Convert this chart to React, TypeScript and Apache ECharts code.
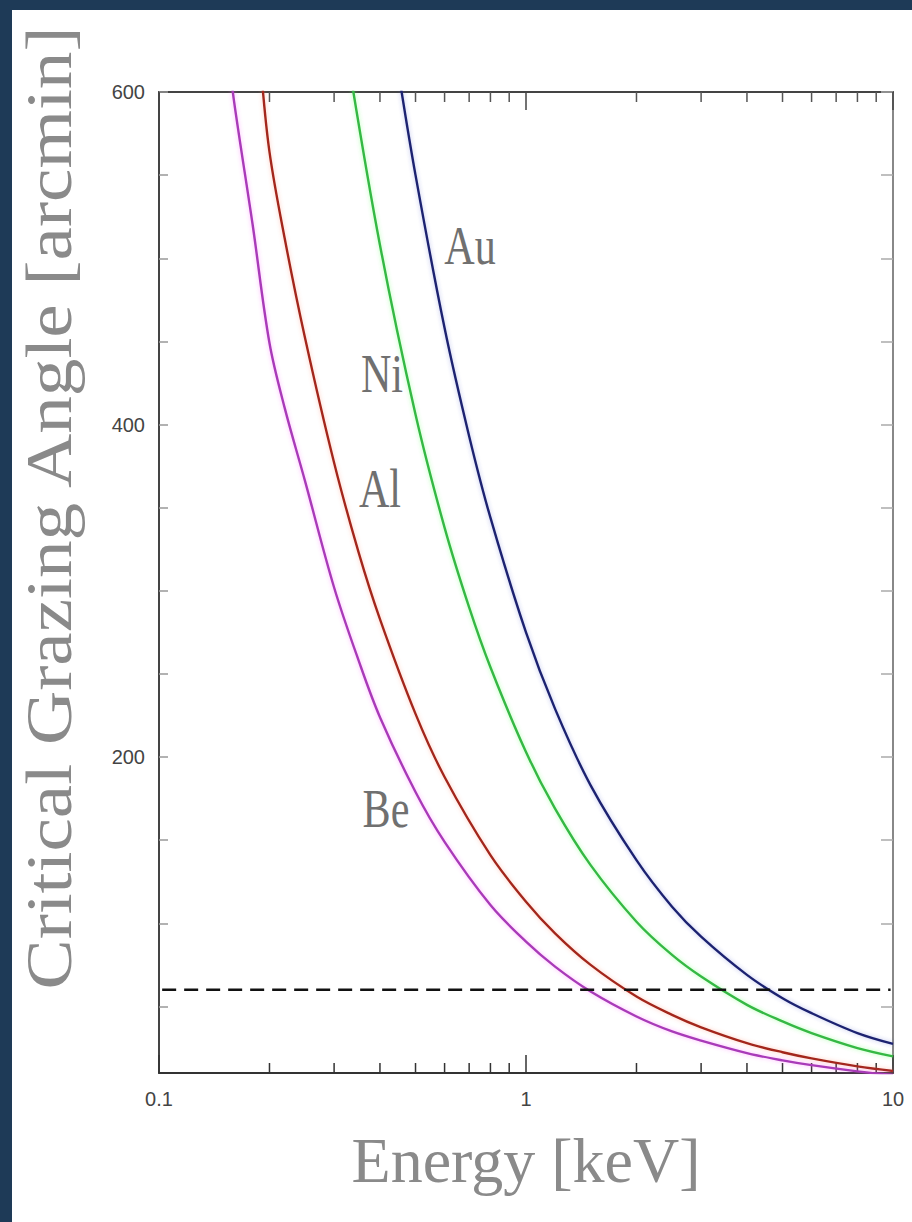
import React, { useEffect, useRef } from "react";
import * as echarts from "echarts";

// ---- data (energy in keV, critical angle in arcmin) ----
const energyAu = [0.45, 0.5, 0.6, 0.7, 0.8, 1, 1.2, 1.5, 2, 2.5, 3, 4, 5, 6, 8, 10];
const angleAu = [611, 550, 458, 393, 344, 275, 229, 183, 138, 110, 92, 69, 55, 46, 34, 27.5];

const energyNi = [0.33, 0.4, 0.5, 0.6, 0.7, 0.8, 1, 1.2, 1.5, 2, 2.5, 3, 4, 5, 6, 8, 10];
const angleNi = [615, 508, 406, 338, 290, 254, 203, 169, 135, 101, 81, 68, 51, 41, 34, 25, 20];

const energyAl = [0.19, 0.2, 0.22, 0.25, 0.3, 0.35, 0.4, 0.5, 0.6, 0.8, 1, 1.2, 1.5, 2, 2.5, 3, 4, 5, 6, 8, 10];
const angleAl = [612, 564, 512, 452, 377, 323, 283, 226, 188, 141, 113, 94, 75, 56, 45, 37.5, 28, 22.5, 18.8, 14, 11.2];

const energyBe = [0.155, 0.16, 0.18, 0.2, 0.22, 0.25, 0.3, 0.35, 0.4, 0.5, 0.6, 0.8, 1, 1.2, 1.5, 2, 2.5, 3, 4, 5, 6, 8, 10];
const angleBe = [622, 595, 520, 449, 410, 366, 302, 258, 224, 179, 149, 111, 89, 74, 59, 44, 35, 29.5, 22, 17.6, 14.7, 11, 8.8];

const thresholdAngle = 60;
const thresholdEnergy = [0.102, 9.85];

const xMinorTicks = [0.2, 0.3, 0.4, 0.5, 0.6, 0.7, 0.8, 0.9, 2, 3, 4, 5, 6, 7, 8, 9];
const yTickValues = [50, 100, 150, 200, 250, 300, 350, 400, 450, 500, 550, 600];
const yLabelValues = [200, 400, 600];

const materialNames = ["Au", "Ni", "Al", "Be"];
const materialColors = ["#1c2270", "#36b844", "#a3281c", "#a83ab8"];
const glowColors = ["rgba(60,70,200,0.35)", "rgba(80,255,80,0.45)", "rgba(255,120,90,0.4)", "rgba(255,90,255,0.45)"];

const X_MIN = 0.1;
const X_MAX = 10;
const Y_MIN = 10;
const Y_MAX = 600;

function pairs(xs: number[], ys: number[]) {
  return xs.map((x, i) => [x, ys[i]]);
}

const seriesData = [
  pairs(energyAu, angleAu),
  pairs(energyNi, angleNi),
  pairs(energyAl, angleAl),
  pairs(energyBe, angleBe),
];

export default function App() {
  const ref = useRef<HTMLDivElement>(null);

  useEffect(() => {
    if (!ref.current) return;
    const chart = echarts.init(ref.current, null, { renderer: "svg" });
    const tickFont = "'Liberation Sans', Arial, sans-serif";
    const titleFont = "'Liberation Serif', 'DejaVu Serif', serif";

    const lineSeries = materialNames.map((name, i) => ({
      name,
      type: "line",
      xAxisIndex: 0,
      yAxisIndex: 0,
      data: seriesData[i],
      symbol: "none",
      smooth: 0.35,
      clip: true,
      z: 4,
      lineStyle: {
        color: materialColors[i],
        width: 2.4,
        shadowColor: glowColors[i],
        shadowBlur: 4,
      },
    }));

    chart.setOption({
      animation: false,
      backgroundColor: "#ffffff",
      grid: { left: 147, top: 82, right: 19, bottom: 149, containLabel: false },
      xAxis: [
        {
          type: "log",
          logBase: 10,
          min: X_MIN,
          max: X_MAX,
          position: "bottom",
          axisLine: { show: true, lineStyle: { color: "#333", width: 2 } },
          axisTick: { show: true, inside: true, length: 18, lineStyle: { color: "#333", width: 1.5 } },
          axisLabel: { show: true, fontSize: 20, color: "#444", margin: 16, fontFamily: tickFont },
          splitLine: { show: false },
          minorTick: { show: false },
        },
        {
          type: "log",
          logBase: 10,
          min: X_MIN,
          max: X_MAX,
          position: "top",
          axisLine: { show: true, lineStyle: { color: "#444", width: 2 } },
          axisTick: { show: true, inside: true, length: 18, lineStyle: { color: "#444", width: 1.5 } },
          axisLabel: { show: false },
          splitLine: { show: false },
        },
      ],
      yAxis: [
        {
          type: "value",
          min: Y_MIN,
          max: Y_MAX,
          position: "left",
          axisLine: { show: true, lineStyle: { color: "#444", width: 2 } },
          axisTick: { show: true, inside: true, length: 9, customValues: yTickValues, lineStyle: { color: "#999", width: 1.5 } },
          axisLabel: { show: true, customValues: yLabelValues, fontSize: 20, color: "#444", margin: 14, fontFamily: tickFont },
          splitLine: { show: false },
        },
        {
          type: "value",
          min: Y_MIN,
          max: Y_MAX,
          position: "right",
          axisLine: { show: true, lineStyle: { color: "#888", width: 2 } },
          axisTick: { show: true, inside: true, length: 12, customValues: yTickValues, lineStyle: { color: "#aaa", width: 1.5 } },
          axisLabel: { show: false },
          splitLine: { show: false },
        },
      ],
      series: [
        ...lineSeries,
        {
          name: "1 degree",
          type: "line",
          xAxisIndex: 0,
          yAxisIndex: 0,
          data: thresholdEnergy.map((e) => [e, thresholdAngle]),
          symbol: "none",
          z: 5,
          lineStyle: { color: "#111", width: 2.5, type: [14, 8] },
        },
        {
          name: "minorTicks",
          type: "custom",
          xAxisIndex: 0,
          yAxisIndex: 0,
          silent: true,
          clip: false,
          z: 3,
          data: xMinorTicks.map((v) => [v, Y_MIN]),
          renderItem: (params: any, api: any) => {
            const v = api.value(0);
            const bottom = api.coord([v, Y_MIN]);
            const top = api.coord([v, Y_MAX]);
            return {
              type: "group",
              children: [
                {
                  type: "line",
                  shape: { x1: bottom[0], y1: bottom[1], x2: bottom[0], y2: bottom[1] - 10 },
                  style: { stroke: "#333", lineWidth: 1.5 },
                },
                {
                  type: "line",
                  shape: { x1: top[0], y1: top[1], x2: top[0], y2: top[1] + 10 },
                  style: { stroke: "#555", lineWidth: 1.5 },
                },
              ],
            };
          },
        },
      ],
      graphic: [
        {
          type: "text",
          x: 514,
          y: 1150,
          silent: true,
          style: {
            text: "Energy [keV]",
            font: `64px ${titleFont}`,
            fill: "#8a8a8a",
            textAlign: "center",
            textVerticalAlign: "middle",
          },
        },
        {
          type: "text",
          x: 37,
          y: 498,
          rotation: Math.PI / 2,
          scaleX: 1.14,
          silent: true,
          style: {
            text: "Critical Grazing Angle [arcmin]",
            font: `66px ${titleFont}`,
            fill: "#8a8a8a",
            textAlign: "center",
            textVerticalAlign: "middle",
          },
        },
        ...[
          [458, 236],
          [370, 364],
          [368, 479],
          [374, 799],
        ].map((pos, i) => ({
          type: "text",
          x: pos[0],
          y: pos[1],
          scaleX: 0.78,
          silent: true,
          z: 10,
          style: {
            text: materialNames[i],
            font: `54px ${titleFont}`,
            fill: "#707070",
            textAlign: "center",
            textVerticalAlign: "middle",
          },
        })),
      ],
    });

    return () => chart.dispose();
  }, []);

  return (
    <div
      style={{
        position: "fixed",
        left: 0,
        top: 0,
        width: 912,
        height: 1222,
        background: "#1e3a57",
      }}
    >
      <div
        ref={ref}
        style={{ position: "absolute", left: 12, top: 10, width: 900, height: 1212, background: "#fff" }}
      />
    </div>
  );
}
